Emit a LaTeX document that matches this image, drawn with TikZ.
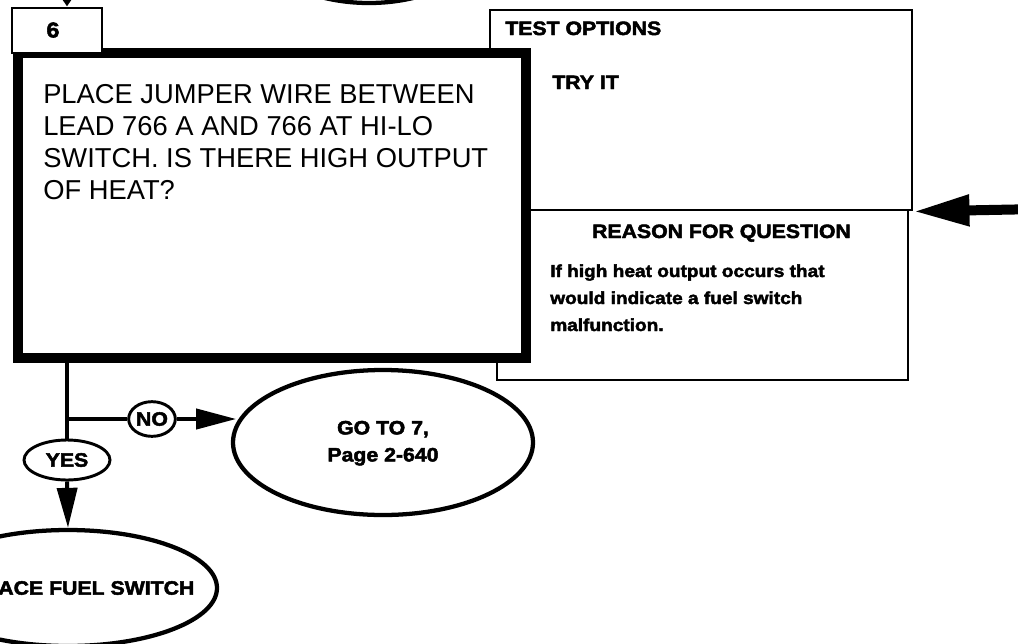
\documentclass[tikz,border=0pt]{standalone}
\usepackage{fontspec}
\setmainfont{Liberation Sans}
\newfontfamily\labfont[FakeStretch=1.1,BoldFeatures={FakeBold=2.5}]{Liberation Sans}
\usetikzlibrary{arrows.meta,shapes.geometric}
\tikzset{
  thinbox/.style={draw, rectangle, line width=2.2pt, inner sep=0pt},
  mainbox/.style={draw, rectangle, line width=7.5pt, fill=white, inner sep=0pt},
  labtext/.style={inner sep=0pt, font=\labfont\bfseries\fontsize{14.5}{20.25}\selectfont},
  bodytext/.style={inner sep=0pt, font=\labfont\bfseries\fontsize{13}{20.25}\selectfont},
  bigoval/.style={draw, ellipse, line width=3.2pt, fill=white, inner sep=0pt, labtext},
  smalloval/.style={draw, ellipse, line width=2.2pt, fill=white, inner sep=0pt, labtext},
  conn/.style={line width=3pt},
  arr/.style={conn, -{Triangle[length=30pt,width=15pt]}},
  toparr/.style={conn, -{Triangle[length=12pt,width=15pt]}},
  bigarr/.style={line width=7.5pt, -{Triangle[length=42pt,width=22pt]}},
}
\begin{document}
\begin{tikzpicture}[x=0.75pt,y=-0.75pt]
\useasboundingbox (0,0) rectangle (1018,643);

% previous step ellipse (mostly off the page)
\node (prev) [bigoval, minimum width=195pt, minimum height=127.5pt] at (369,-82) {};

% side boxes
\node (topt) [thinbox, minimum width=316.5pt, minimum height=150pt] at (701,110) {};
\node (reason) [thinbox, minimum width=308.25pt, minimum height=127.5pt] at (702.5,295) {};

% main question box
\node (main) [mainbox, minimum width=381pt, minimum height=228.75pt] at (272,205.5) {};
\node (sixbox) [thinbox, fill=white, minimum width=67.5pt, minimum height=33.75pt] at (57,30.5) {};
\node (sixlbl) [labtext, font=\labfont\bfseries\fontsize{16}{20}\selectfont] at (53,30) {6};

% texts
\node (question) [inner sep=0pt, anchor=base west, font=\fontsize{20.5}{24}\selectfont] at (43,103)
  {\begin{tabular}[t]{@{}l@{}}PLACE JUMPER WIRE BETWEEN\\LEAD 766 A AND 766 AT HI-LO\\SWITCH. IS THERE HIGH OUTPUT\\OF HEAT?\end{tabular}};
\node (toptlbl) [labtext, anchor=base west] at (505,35) {TEST OPTIONS};
\node (tryit) [labtext, anchor=base west] at (552,89) {TRY IT};
\node (reasonlbl) [labtext, anchor=base] at (721.5,238) {REASON FOR QUESTION};
\node (reasontxt) [bodytext, anchor=base west] at (550,277)
  {\begin{tabular}[t]{@{}l@{}}If high heat output occurs that\\would indicate a fuel switch\\malfunction.\end{tabular}};

% outcome nodes
\node (no) [smalloval, minimum width=35pt, minimum height=26pt] at (152,419) {NO};
\node (yes) [smalloval, minimum width=64.5pt, minimum height=30pt] at (67,460) {YES};
\node (goto) [bigoval, minimum width=225pt, minimum height=108.75pt] at (383,442.5)
  {\makebox[0pt]{\begin{tabular}{@{}c@{}}GO TO 7,\\Page 2-640\end{tabular}}};
\node (replace) [bigoval, minimum width=223.5pt, minimum height=87pt] at (68,588)
  {\makebox[0pt]{REPLACE FUEL SWITCH}};

% connectors
\coordinate (topin) at (67,-40);
\coordinate (split) at (67,419);
\coordinate (rin) at (1040,209);
\draw[toparr] (topin) -- (topin |- sixbox.north);
\draw[bigarr] (rin) -- (topt.south east);
\draw[conn] (main.south -| split) -- (yes.north);
\draw[conn] (split) -- (no.west);
\draw[arr] (no.east) -- ([xshift=4pt]no.east -| goto.west);
\draw[arr] (yes.south) -- (replace.north);
\end{tikzpicture}
\end{document}
